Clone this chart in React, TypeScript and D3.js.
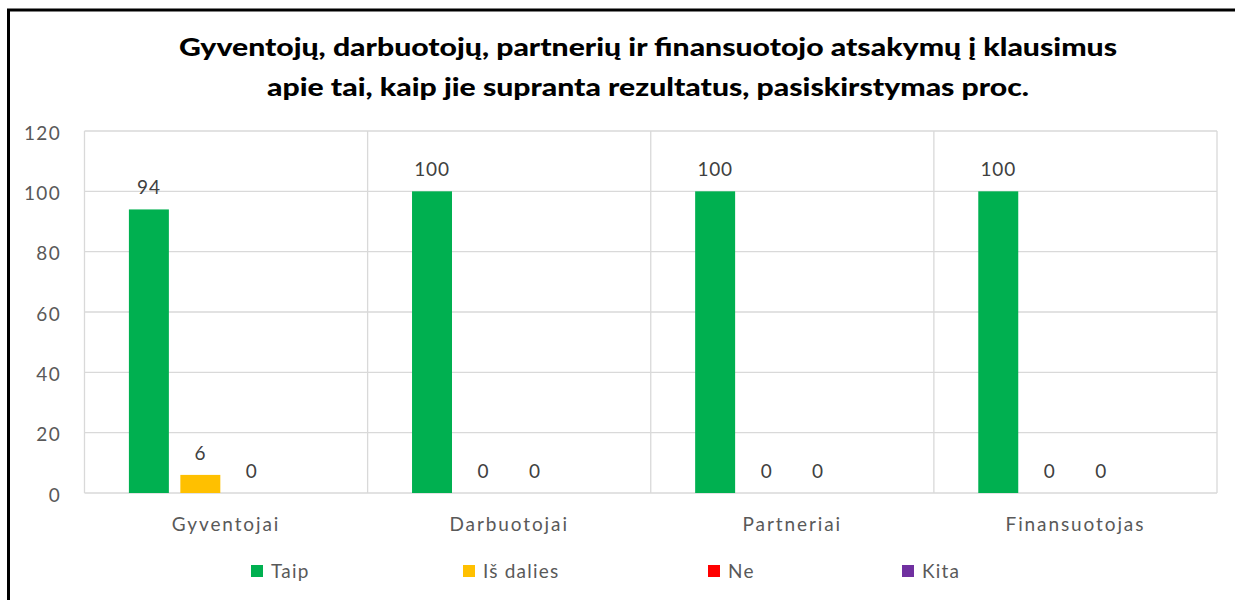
import React from "react";
import * as d3 from "d3";

const categories = ["Gyventojai", "Darbuotojai", "Partneriai", "Finansuotojas"];
const seriesNames = ["Taip", "Iš dalies", "Ne", "Kita"];
const taip = [94, 100, 100, 100];
const isDalies = [6, 0, 0, 0];
const ne = [0, 0, 0, 0];
const kita: (number | null)[] = [null, null, null, null];
const yTicks = [0, 20, 40, 60, 80, 100, 120];
const titleLines = [
  "Gyventojų, darbuotojų, partnerių ir finansuotojo atsakymų į klausimus",
  "apie tai, kaip jie supranta rezultatus, pasiskirstymas proc.",
];

const seriesValues: (number | null)[][] = [taip, isDalies, ne, kita];
const colors = ["#00B050", "#FFC000", "#FF0000", "#7030A0"];

const W = 1235;
const H = 600;
const plot = { left: 84.5, right: 1217, top: 131, bottom: 493 };
const textColor = "#595959";
const gridColor = "#D9D9D9";
const font = "Lato, 'Open Sans', sans-serif";
const legendX = [251, 463, 708, 902];

export default function App() {
  const x0 = d3.scaleBand<string>().domain(categories).range([plot.left, plot.right]).padding(0);
  const x1 = d3
    .scaleBand<string>()
    .domain(seriesNames)
    .range([0, x0.bandwidth()])
    .paddingInner(0.223)
    .paddingOuter(0.863);
  const y = d3.scaleLinear().domain([0, 120]).range([plot.bottom, plot.top]);

  const bars: React.ReactNode[] = [];
  const labels: React.ReactNode[] = [];
  seriesValues.forEach((vals, si) => {
    vals.forEach((v, ci) => {
      if (v === null) return;
      const bx = (x0(categories[ci]) as number) + (x1(seriesNames[si]) as number);
      const bw = x1.bandwidth();
      if (v > 0) {
        bars.push(
          <rect key={`b${si}-${ci}`} x={bx} y={y(v)} width={bw} height={plot.bottom - y(v)} fill={colors[si]} />
        );
      }
      labels.push(
        <text
          key={`l${si}-${ci}`}
          x={bx + bw / 2}
          y={y(v) - 15}
          textAnchor="middle"
          fontSize={19}
          fill="#404040"
          fontFamily={font}
          letterSpacing={0.8}
        >
          {v}
        </text>
      );
    });
  });

  return (
    <svg
      width={W}
      height={H}
      style={{ position: "absolute", left: 0, top: 0, background: "#fff" }}
    >
      <rect x={0} y={0} width={W} height={H} fill="#fff" />
      <rect x={8.5} y={10} width={1260} height={640} fill="#fff" stroke="#000" strokeWidth={3} />
      {titleLines.map((t, i) => (
        <text
          key={i}
          x={648}
          y={56 + i * 40}
          textAnchor="middle"
          fontSize={25}
          fontWeight={900}
          fontFamily={font}
          fill="#000"
          textLength={i === 0 ? 938 : 762}
          lengthAdjust="spacingAndGlyphs"
        >
          {t}
        </text>
      ))}
      {yTicks.map((t) => (
        <g key={t}>
          <line x1={plot.left} x2={plot.right} y1={y(t)} y2={y(t)} stroke={gridColor} strokeWidth={1.3} />
          <text
            x={61}
            y={y(t) + 8.5}
            textAnchor="end"
            fontSize={19}
            fill={textColor}
            fontFamily={font}
            letterSpacing={1.3}
          >
            {t}
          </text>
        </g>
      ))}
      {[...categories.map((c) => x0(c) as number), plot.right].map((xv, i) => (
        <line key={i} x1={xv} x2={xv} y1={plot.top} y2={plot.bottom} stroke={gridColor} strokeWidth={1.3} />
      ))}
      {bars}
      {labels}
      {categories.map((c) => (
        <text
          key={c}
          x={(x0(c) as number) + x0.bandwidth() / 2}
          y={531}
          textAnchor="middle"
          fontSize={19}
          fill={textColor}
          fontFamily={font}
          letterSpacing={1.9}
        >
          {c}
        </text>
      ))}
      {seriesNames.map((s, i) => (
        <g key={s}>
          <rect x={legendX[i]} y={565} width={12} height={12} fill={colors[i]} />
          <text x={legendX[i] + 20} y={578} fontSize={19} fill={textColor} fontFamily={font} letterSpacing={1.2}>
            {s}
          </text>
        </g>
      ))}
    </svg>
  );
}
